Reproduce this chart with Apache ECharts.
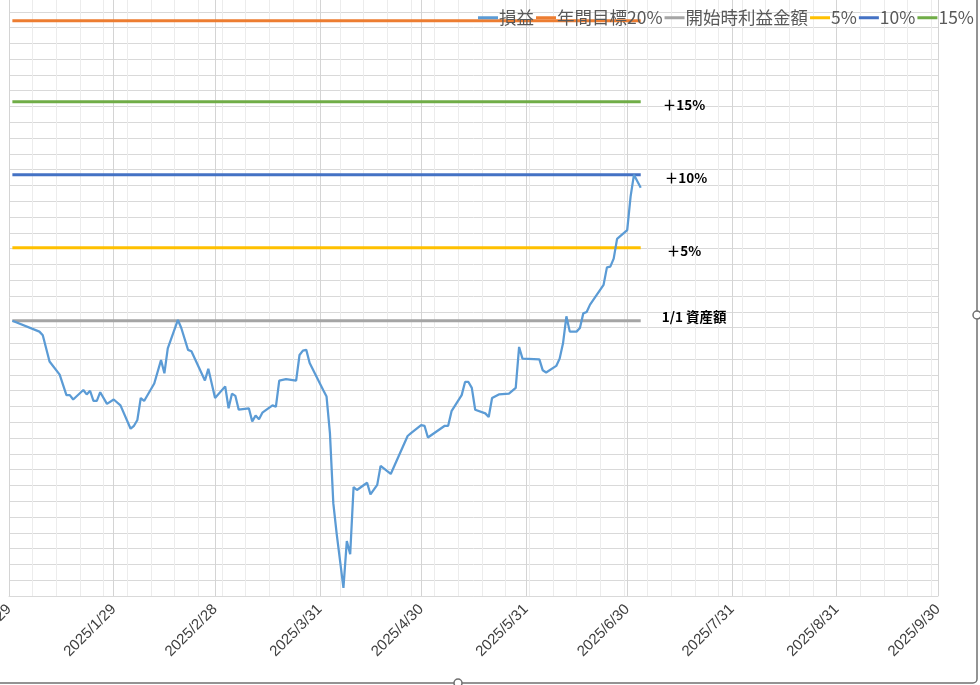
<!DOCTYPE html>
<html>
<head>
<meta charset="utf-8">
<script src="https://cdn.jsdelivr.net/npm/echarts@6/dist/echarts.min.js"></script>
<style>
html, body { margin: 0; padding: 0; background: #fff; }
#main { width: 980px; height: 685px; }
</style>
</head>
<body>
<div id="main"></div>
<script>
// 損益 (開始時資産額 = 100)
var dates = [
    '2024/12/30', '2025/1/7', '2025/1/8', '2025/1/10', '2025/1/13', '2025/1/14', '2025/1/15', '2025/1/16',
    '2025/1/17', '2025/1/20', '2025/1/21', '2025/1/22', '2025/1/23', '2025/1/24', '2025/1/25', '2025/1/27',
    '2025/1/29', '2025/1/31', '2025/2/3', '2025/2/4', '2025/2/5', '2025/2/6', '2025/2/7', '2025/2/10',
    '2025/2/12', '2025/2/13', '2025/2/14', '2025/2/17', '2025/2/18', '2025/2/20', '2025/2/21', '2025/2/25',
    '2025/2/26', '2025/2/28', '2025/3/3', '2025/3/4', '2025/3/5', '2025/3/6', '2025/3/7', '2025/3/10',
    '2025/3/11', '2025/3/12', '2025/3/13', '2025/3/14', '2025/3/17', '2025/3/18', '2025/3/19', '2025/3/21',
    '2025/3/24', '2025/3/25', '2025/3/26', '2025/3/27', '2025/3/28', '2025/4/1', '2025/4/2', '2025/4/3',
    '2025/4/4', '2025/4/5', '2025/4/7', '2025/4/8', '2025/4/9', '2025/4/10', '2025/4/11', '2025/4/14',
    '2025/4/15', '2025/4/17', '2025/4/18', '2025/4/21', '2025/4/26', '2025/4/27', '2025/4/30', '2025/5/1',
    '2025/5/2', '2025/5/7', '2025/5/8', '2025/5/9', '2025/5/12', '2025/5/13', '2025/5/14', '2025/5/15',
    '2025/5/16', '2025/5/19', '2025/5/20', '2025/5/21', '2025/5/23', '2025/5/26', '2025/5/28', '2025/5/29',
    '2025/5/30', '2025/6/4', '2025/6/5', '2025/6/6', '2025/6/9', '2025/6/10', '2025/6/11', '2025/6/12',
    '2025/6/13', '2025/6/15', '2025/6/16', '2025/6/17', '2025/6/18', '2025/6/19', '2025/6/23', '2025/6/24',
    '2025/6/25', '2025/6/26', '2025/6/27', '2025/6/30', '2025/7/1', '2025/7/2', '2025/7/4'
];
var pnl = [
    100.0, 99.25, 99.0, 97.2, 96.3, 95.6, 94.9, 94.9,
    94.6, 95.25, 94.95, 95.2, 94.5, 94.5, 95.1, 94.3,
    94.6, 94.2, 92.6, 92.8, 93.2, 94.7, 94.5, 95.7,
    97.3, 96.4, 98.1, 100.05, 99.5, 98.0, 97.9, 95.9,
    96.7, 94.7, 95.5, 94.0, 95.0, 94.85, 93.9, 94.0,
    93.1, 93.5, 93.25, 93.7, 94.2, 94.1, 95.9, 96.0,
    95.9, 97.65, 97.95, 98.0, 97.1, 95.25, 94.8, 92.3,
    87.5, 85.4, 81.7, 84.9, 84.0, 88.6, 88.4, 88.9,
    88.1, 88.75, 90.05, 89.5, 92.1, 92.3, 92.85, 92.8,
    92.0, 92.8, 92.8, 93.8, 94.9, 95.8, 95.8, 95.4,
    93.9, 93.65, 93.4, 94.7, 94.95, 95.0, 95.4, 98.2,
    97.4, 97.35, 96.6, 96.45, 96.9, 97.4, 98.45, 100.3,
    99.25, 99.25, 99.5, 100.5, 100.6, 101.1, 102.45, 103.65,
    103.7, 104.25, 105.6, 106.2, 108.5, 110.0, 109.1
];

// 基準線
var refDates = ['2024/12/30', '2025/7/4'];
var goalLevel = 120.55;
var baseLevel = 100;
var level5 = 105;
var level10 = 110;
var level15 = 115;

var tickLabels = ['2024/12/29', '2025/1/29', '2025/2/28', '2025/3/31', '2025/4/30',
    '2025/5/31', '2025/6/30', '2025/7/31', '2025/8/31', '2025/9/30'];

var axisStart = Date.UTC(2024, 11, 29);
var axisDays = 275;
function dayOf(s) {
    var p = s.split('/');
    return Math.round((Date.UTC(+p[0], +p[1] - 1, +p[2]) - axisStart) / 86400000);
}
function fmt(d) {
    var t = new Date(axisStart + d * 86400000);
    return t.getUTCFullYear() + '/' + (t.getUTCMonth() + 1) + '/' + t.getUTCDate();
}
var allDays = [];
for (var i = 0; i <= axisDays; i++) {
    allDays.push(fmt(i));
}
function isTick(idx, val) {
    return tickLabels.indexOf(val) >= 0;
}
function refLine(level) {
    return refDates.map(function (d) { return [dayOf(d), level]; });
}

var chartDom = document.getElementById('main');
var myChart = echarts.init(chartDom);
var option;

var endLbl = function (text, dx, dy) {
    return {
        show: true,
        formatter: text,
        distance: 0,
        offset: [dx, dy],
        color: '#000',
        fontWeight: 'bold',
        fontSize: 13.5,
        fontFamily: 'Noto Sans CJK JP'
    };
};

option = {
    animation: false,
    grid: {
        left: 9,
        right: 42,
        top: -4,
        bottom: 89,
        containLabel: false,
        outerBoundsMode: 'none'
    },
    legend: {
        left: 478,
        top: 9,
        width: 560,
        padding: 0,
        icon: 'rect',
        itemWidth: 20,
        itemHeight: 3,
        itemGap: 2,
        textStyle: {
            color: '#595959',
            fontSize: 17.5,
            fontFamily: 'Noto Sans CJK JP',
            padding: [0, 0, 0, -4]
        },
        data: ['損益', '年間目標20%', '開始時利益金額', '5%', '10%', '15%']
    },
    xAxis: [
        {
            type: 'value',
            min: 0,
            max: axisDays,
            interval: 7,
            axisLabel: { show: false },
            axisTick: { show: false },
            axisLine: { show: true, lineStyle: { color: '#d9d9d9' } },
            splitLine: { show: true, lineStyle: { color: '#ececec', width: 1 } }
        },
        {
            type: 'category',
            data: allDays,
            boundaryGap: false,
            position: 'bottom',
            axisLine: { show: false },
            axisTick: { show: false },
            axisLabel: {
                interval: isTick,
                rotate: 45,
                margin: 11,
                color: '#404040',
                fontSize: 15,
                fontFamily: 'Liberation Sans'
            },
            splitLine: {
                show: true,
                interval: isTick,
                lineStyle: { color: '#d4d4d4', width: 1 }
            }
        }
    ],
    yAxis: [
        {
            type: 'value',
            min: 81.14,
            max: 122.24,
            show: false,
            splitLine: { show: false }
        },
        {
            type: 'value',
            min: 0,
            max: 38,
            interval: 1,
            axisLabel: { show: false },
            axisTick: { show: false },
            axisLine: { show: false },
            splitLine: { show: true, lineStyle: { color: '#d9d9d9', width: 1 } }
        }
    ],
    series: [
        {
            name: '損益',
            type: 'line',
            symbol: 'none',
            color: '#5B9BD5',
            lineStyle: { width: 2.25 },
            z: 5,
            data: dates.map(function (d, i) { return [dayOf(d), pnl[i]]; }),
            markPoint: {
                symbol: 'none',
                data: [{ type: 'min' }],
                label: {
                    show: true,
                    formatter: '▲17.7%',
                    offset: [53, 3],
                    color: '#E3262D',
                    fontSize: 14,
                    fontFamily: 'Liberation Sans'
                }
            }
        },
        {
            name: '年間目標20%',
            type: 'line',
            symbol: 'none',
            color: '#ED7D31',
            lineStyle: { width: 3 },
            data: refLine(goalLevel)
        },
        {
            name: '開始時利益金額',
            type: 'line',
            symbol: 'none',
            color: '#A5A5A5',
            lineStyle: { width: 3 },
            data: refLine(baseLevel),
            endLabel: endLbl('1/1 資産額', 21, -4)
        },
        {
            name: '5%',
            type: 'line',
            symbol: 'none',
            color: '#FFC000',
            lineStyle: { width: 3 },
            data: refLine(level5),
            endLabel: endLbl('＋5%', 26, 3)
        },
        {
            name: '10%',
            type: 'line',
            symbol: 'none',
            color: '#4472C4',
            lineStyle: { width: 3 },
            data: refLine(level10),
            endLabel: endLbl('＋10%', 24, 3)
        },
        {
            name: '15%',
            type: 'line',
            symbol: 'none',
            color: '#70AD47',
            lineStyle: { width: 3 },
            data: refLine(level15),
            endLabel: endLbl('＋15%', 22, 3)
        }
    ],
    graphic: [
        {
            type: 'rect',
            shape: { x: -10, y: -10, width: 987, height: 693, r: 4 },
            style: { fill: 'none', stroke: '#707070', lineWidth: 1.5 },
            silent: true
        },
        {
            type: 'circle',
            shape: { cx: 977, cy: 315, r: 4 },
            style: { fill: '#fff', stroke: '#707070', lineWidth: 1.5 },
            silent: true
        },
        {
            type: 'circle',
            shape: { cx: 458, cy: 683, r: 4 },
            style: { fill: '#fff', stroke: '#707070', lineWidth: 1.5 },
            silent: true
        }
    ]
};

// yAxis[1] / xAxis[1] はグリッド線と目盛ラベル用
option.series.forEach(function (s) {
    s.xAxisIndex = 0;
    s.yAxisIndex = 0;
});

option && myChart.setOption(option);
window.addEventListener('resize', function () {
    myChart.resize();
});
</script>
</body>
</html>
